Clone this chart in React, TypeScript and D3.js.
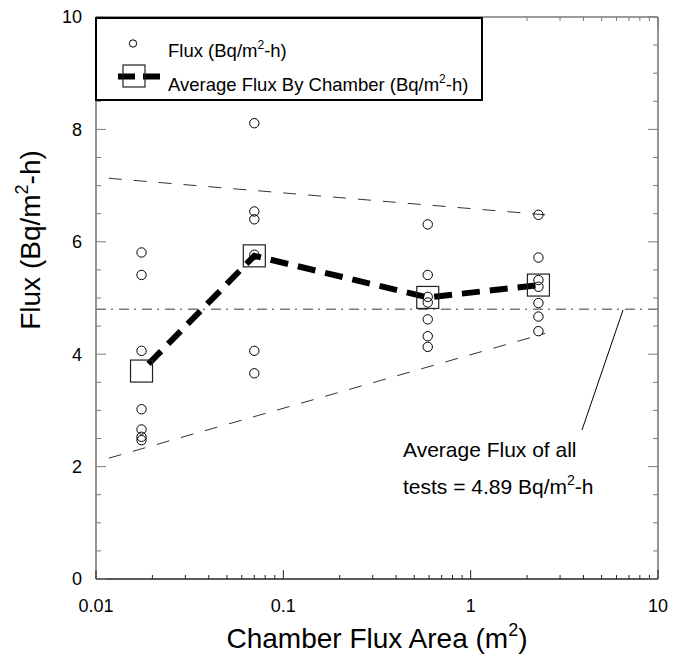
import React from "react";
import { scaleLog, scaleLinear, line, range } from "d3";

// chamber areas (m^2) and the individual flux tests at each
const chamberArea = [0.0175, 0.07, 0.59, 2.3];
const fluxTests = [
  [5.81, 5.41, 4.06, 3.02, 2.66, 2.53, 2.47],
  [8.11, 6.54, 6.4, 5.77, 4.06, 3.66],
  [6.31, 5.41, 5.02, 4.92, 4.62, 4.32, 4.13],
  [6.48, 5.72, 5.32, 5.2, 4.91, 4.67, 4.41],
];
const avgFlux = [3.7, 5.75, 5.01, 5.23];

// dashed bound lines
const boundArea = [0.0117, 2.5];
const upperBound = [7.13, 6.48];
const lowerBound = [2.15, 4.37];
const overallMean = 4.8;

const xTickLabels = [0.01, 0.1, 1, 10];
const yTickLabels = [0, 2, 4, 6, 8, 10];

const width = 673;
const height = 661;
const margin = { top: 17, right: 15, bottom: 82, left: 96 };
const innerRight = width - margin.right;
const innerBottom = height - margin.bottom;

const font = "'Liberation Sans', Arial, sans-serif";

export default function App() {
  const x = scaleLog().domain([0.01, 10]).range([margin.left, innerRight]);
  const y = scaleLinear().domain([0, 10]).range([innerBottom, margin.top]);

  const xMinor = x.ticks();
  const yMinor = range(0, 10.01, 0.5);
  const isMajorX = (v: number) => xTickLabels.some((t) => Math.abs(t - v) < 1e-9);
  const isMajorY = (v: number) => yTickLabels.includes(v);

  const avgLine = line<number>()
    .x((_, i) => x(chamberArea[i]))
    .y((d) => y(d));

  const boundLine = (vals: number[]) =>
    line<number>()
      .x((_, i) => x(boundArea[i]))
      .y((d) => y(d))(vals);

  const gray = "#7a7a7a";

  return (
    <svg
      width={width}
      height={height}
      style={{ position: "absolute", left: 0, top: 0, background: "#fff" }}
      fontFamily={font}
    >
      {/* frame */}
      <line x1={margin.left} x2={margin.left} y1={margin.top} y2={innerBottom} stroke={gray} strokeWidth={1.6} />
      <line x1={innerRight} x2={innerRight} y1={margin.top} y2={innerBottom} stroke={gray} strokeWidth={1.6} />
      <line x1={margin.left} x2={innerRight} y1={margin.top} y2={margin.top} stroke={gray} strokeWidth={1.6} />
      <line x1={margin.left} x2={innerRight} y1={innerBottom} y2={innerBottom} stroke="#222" strokeWidth={1.6} />

      {/* x ticks, bottom and top */}
      {xMinor.map((v, i) => {
        const len = isMajorX(v) ? 9 : 4;
        return (
          <g key={`xt-${i}`} stroke="#222" strokeWidth={1}>
            <line x1={x(v)} x2={x(v)} y1={innerBottom} y2={innerBottom - len} />
            <line x1={x(v)} x2={x(v)} y1={margin.top} y2={margin.top + len} stroke={gray} />
          </g>
        );
      })}
      {xTickLabels.map((v) => (
        <text key={`xl-${v}`} x={x(v)} y={612} textAnchor="middle" fontSize={18}>
          {v}
        </text>
      ))}

      {/* y ticks, left and right */}
      {yMinor.map((v, i) => {
        const len = isMajorY(v) ? 10 : 5;
        return (
          <g key={`yt-${i}`} stroke={gray} strokeWidth={1}>
            <line x1={margin.left} x2={margin.left + len} y1={y(v)} y2={y(v)} />
            <line x1={innerRight} x2={innerRight - len} y1={y(v)} y2={y(v)} />
          </g>
        );
      })}
      {yTickLabels.map((v) => (
        <text key={`yl-${v}`} x={82} y={y(v)} dy="0.36em" textAnchor="end" fontSize={18}>
          {v}
        </text>
      ))}

      {/* axis titles */}
      <text x={(margin.left + innerRight) / 2} y={648} textAnchor="middle" fontSize={28}>
        Chamber Flux Area (m
        <tspan fontSize={18} dy={-12}>2</tspan>
        <tspan dy={12}>)</tspan>
      </text>
      <text transform="translate(40, 240) rotate(-90)" textAnchor="middle" fontSize={28}>
        Flux (Bq/m
        <tspan fontSize={18} dy={-12}>2</tspan>
        <tspan dy={12}>-h)</tspan>
      </text>

      {/* bound lines */}
      <path d={boundLine(upperBound) ?? ""} fill="none" stroke="#333" strokeWidth={1} strokeDasharray="13 12" />
      <path d={boundLine(lowerBound) ?? ""} fill="none" stroke="#333" strokeWidth={1} strokeDasharray="13 12" />

      {/* overall mean */}
      <line
        x1={margin.left}
        x2={innerRight}
        y1={y(overallMean)}
        y2={y(overallMean)}
        stroke={gray}
        strokeWidth={1.4}
        strokeDasharray="10 5 2 6"
      />

      {/* average line */}
      <path
        d={avgLine(avgFlux) ?? ""}
        fill="none"
        stroke="#000"
        strokeWidth={6}
        strokeDasharray="18 10"
        strokeDashoffset={18}
      />

      {/* average squares */}
      {avgFlux.map((v, i) => (
        <rect
          key={`sq-${i}`}
          x={x(chamberArea[i]) - 11}
          y={y(v) - 11}
          width={22}
          height={22}
          fill="none"
          stroke="#222"
          strokeWidth={1.2}
        />
      ))}

      {/* flux points */}
      {fluxTests.map((vals, i) =>
        vals.map((v, j) => (
          <circle
            key={`pt-${i}-${j}`}
            cx={x(chamberArea[i])}
            cy={y(v)}
            r={4.7}
            fill="none"
            stroke="#000"
            strokeWidth={1}
          />
        ))
      )}

      {/* annotation */}
      <line x1={623} y1={310} x2={582} y2={430} stroke="#000" strokeWidth={1} />
      <text x={403} y={457} fontSize={21}>
        Average Flux of all
      </text>
      <text x={403} y={494} fontSize={21}>
        tests = 4.89 Bq/m
        <tspan fontSize={14} dy={-9}>2</tspan>
        <tspan dy={9}>-h</tspan>
      </text>

      {/* legend */}
      <rect x={96} y={18} width={386} height={82} fill="#fff" stroke="#000" strokeWidth={2} />
      <circle cx={133} cy={43.5} r={3.7} fill="none" stroke="#000" strokeWidth={1} />
      <text x={168} y={56.5} fontSize={18.5}>
        Flux (Bq/m
        <tspan fontSize={12} dy={-8}>2</tspan>
        <tspan dy={8}>-h)</tspan>
      </text>
      <line x1={118} x2={160} y1={76.5} y2={76.5} stroke="#000" strokeWidth={6} strokeDasharray="17 8" />
      <rect x={123} y={65} width={22} height={22} fill="none" stroke="#222" strokeWidth={1.2} />
      <text x={168} y={90.5} fontSize={18.5}>
        Average Flux By Chamber (Bq/m
        <tspan fontSize={12} dy={-8}>2</tspan>
        <tspan dy={8}>-h)</tspan>
      </text>
    </svg>
  );
}
